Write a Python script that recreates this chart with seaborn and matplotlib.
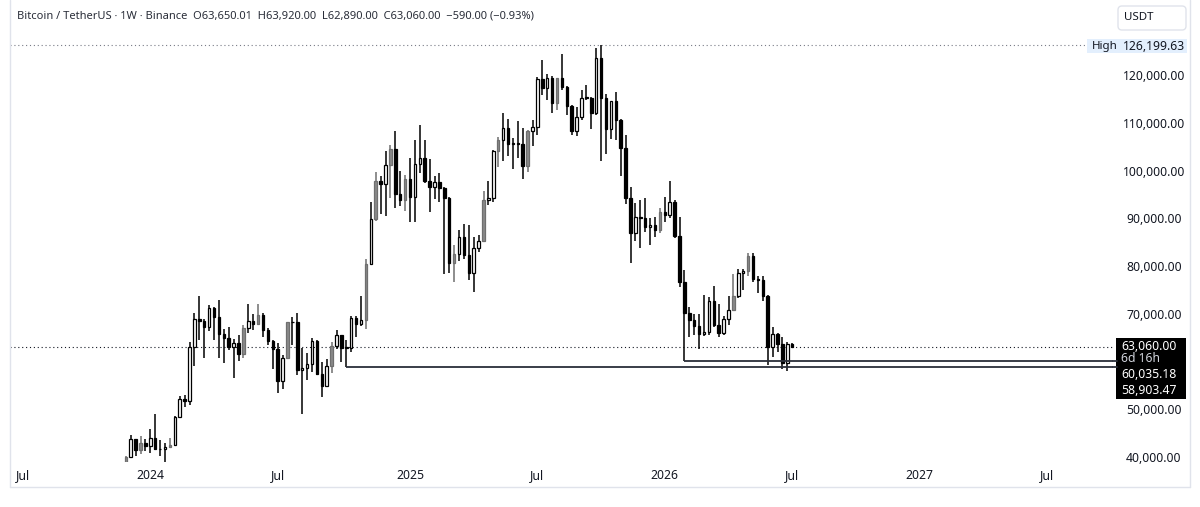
import numpy as np
import pandas as pd
import matplotlib
matplotlib.use("Agg")
import matplotlib.pyplot as plt
import matplotlib.dates as mdates
from matplotlib.patches import Rectangle, FancyBboxPatch
import seaborn as sns

# ---------------- data (weekly BTCUSDT candles) ----------------
week_start = "2023-11-27"
opens = [37450, 39970, 43780, 41375, 43010, 42280, 43930, 41730, 41580, 42120,
         42580, 48300, 52140, 51730, 63110, 68960, 68390, 67210, 71280, 69360,
         65660, 64940, 63120, 63890, 61480, 66940, 68500, 67760, 69640, 66640,
         64250, 62680, 55850, 60800, 68170, 68250, 58160, 58710, 59450, 64200,
         57300, 54840, 59130, 63350, 65600, 62820, 62850, 69030, 67940, 68770,
         80370, 89850, 97900, 97190, 101110, 104460, 95180, 93720, 98320, 94520,
         101330, 102620, 97700, 96460, 97570, 96250, 94270, 80730, 82580, 86080,
         82390, 78430, 83770, 85180, 93750, 94320, 104120, 106450, 109000, 105640,
         105730, 105590, 100960, 108370, 109200, 119080, 117300, 119450, 114200, 119300,
         117400, 113500, 108250, 111150, 115270, 115230, 112120, 123510, 115270, 108640,
         114470, 110540, 104720, 94260, 86830, 90360, 90050, 88170, 88500, 87600,
         91400, 90700, 93500, 86200, 76700, 70200, 68700, 67400, 65800, 66200,
         72700, 67600, 65900, 69000, 70800, 73700, 78600, 78900, 82100, 77200,
         77000, 73700, 63100, 65700, 63700, 59600, 63650.01]
highs = [40250, 44700, 43800, 44300, 43800, 45880, 48970, 43580, 42840, 43880,
         48590, 52820, 52980, 64000, 70170, 73780, 68920, 71770, 71340, 72800,
         66870, 67230, 64740, 65500, 67700, 71980, 70000, 71990, 70200, 67000,
         64500, 63860, 61390, 68370, 69400, 70080, 62750, 61800, 65000, 64480,
         59800, 60600, 64130, 66500, 65620, 64480, 69500, 69520, 73620, 81500,
         93480, 99590, 98870, 104090, 105250, 108350, 99960, 98980, 102720, 106420,
         109590, 106460, 102500, 98830, 99480, 96500, 94420, 84500, 87450, 88770,
         88500, 86100, 86430, 95760, 97900, 104360, 107100, 111980, 110720, 106800,
         110400, 108950, 108530, 110530, 119490, 123220, 120250, 119800, 119310, 124470,
         117630, 113650, 113380, 116800, 118000, 115430, 125710, 126199.63, 116000, 114000,
         116400, 110800, 107500, 96640, 93100, 93800, 94300, 90100, 90300, 92100,
         94500, 97700, 93800, 90300, 79200, 71500, 70000, 70000, 73900, 73600,
         75800, 72000, 69600, 73700, 78300, 79300, 79300, 82700, 82700, 77900,
         77900, 74000, 67300, 66000, 65200, 64000, 63920]
lows = [36700, 39950, 40200, 40530, 41300, 40750, 41500, 40280, 38550, 41880,
        42260, 48150, 50520, 50900, 59000, 64550, 60780, 66380, 64500, 60660,
        59600, 62400, 56550, 60190, 60750, 66060, 66600, 67600, 65080, 63380,
        58400, 53500, 54260, 60600, 63450, 57120, 49000, 56100, 57800, 57200,
        52550, 54600, 57500, 62650, 59830, 58903.47, 62060, 65050, 67500, 66830,
        80220, 89380, 90790, 90500, 94150, 92180, 92570, 91530, 89260, 89260,
        99460, 97300, 91230, 94090, 93390, 78260, 78500, 76610, 81140, 81560,
        77150, 74510, 83000, 85140, 92800, 93380, 100720, 102000, 103100, 100370,
        102660, 98200, 99600, 105100, 107470, 115730, 114720, 112000, 112650, 116800,
        111680, 107350, 107250, 110600, 114780, 108650, 111560, 102000, 103530, 106670,
        106300, 98940, 93000, 80600, 85300, 83800, 87200, 84400, 86100, 86900,
        89300, 90000, 85800, 75600, 60035.18, 65200, 65600, 62600, 65400, 65600,
        67200, 65200, 65500, 67600, 70500, 73300, 75000, 78000, 76600, 74400,
        72700, 59300, 61000, 62000, 58500, 58000, 62890]
closes = [39970, 43780, 41375, 43010, 42280, 43930, 41730, 41580, 42120, 42580,
          48300, 52140, 51730, 63110, 68960, 68390, 67210, 71280, 69360, 65660,
          64940, 63120, 63890, 61480, 66940, 68500, 67760, 69640, 66640, 64250,
          62680, 55850, 60800, 68170, 68250, 58160, 58710, 59450, 64200, 57300,
          54840, 59130, 63350, 65600, 62820, 62850, 69030, 67940, 68770, 80370,
          89850, 97900, 97190, 101110, 104460, 95180, 93720, 98320, 94520, 101330,
          102620, 97700, 96460, 97570, 96250, 94270, 80730, 82580, 86080, 82390,
          78430, 83770, 85180, 93750, 94320, 104120, 106450, 109000, 105640, 105730,
          105590, 100960, 108370, 109200, 119080, 117300, 119450, 114200, 119300, 117400,
          113500, 108250, 111150, 115270, 115230, 112120, 123510, 115270, 108640, 114470,
          110540, 104720, 94260, 86830, 90360, 90050, 88170, 88500, 87600, 91400,
          90700, 93500, 86200, 76700, 70200, 68700, 67400, 65800, 66200, 72700,
          67600, 65900, 69000, 70800, 73700, 78600, 78900, 82100, 77200, 77000,
          73700, 63100, 65700, 63700, 59600, 63650.01, 63060]

last_close = 63060.00
all_time_high = 126199.63
support_a = 60035.18   # drawn from the week it was printed
support_b = 58903.47
support_a_start = 114
support_b_start = 45

price_ticks = [40000, 50000, 70000, 80000, 90000, 100000, 110000, 120000]
time_tick_months = ["2023-07-01", "2024-01-01", "2024-07-01", "2025-01-01", "2025-07-01",
                    "2026-01-01", "2026-07-01", "2027-01-01", "2027-07-01"]

header = ("Bitcoin / TetherUS \u00b7 1W \u00b7 Binance  O63,650.01  H63,920.00  "
          "L62,890.00  C63,060.00  \u2212590.00 (\u22120.93%)")

# ---------------- style ----------------
grey_bars = [0, 3, 9, 24, 27, 33, 42, 49, 51, 54, 57, 67, 73, 76, 82, 88, 109, 124, 127]
GREY = "#8a8a8a"
INK = "#131722"
W, H = 1200, 507
LABEL_FS = 8.8

sns.set_theme(style="white")
plt.rcParams["font.family"] = ["Noto Sans", "DejaVu Sans"]

fig = plt.figure(figsize=(W / 100, H / 100), dpi=100)
fig.patch.set_facecolor("white")

# pane geometry in pixels
pane_l, pane_r, pane_t, pane_b = 10, 1113, 0, 462
ax = fig.add_axes([pane_l / W, 1 - pane_b / H, (pane_r - pane_l) / W, (pane_b - pane_t) / H])
ax.set_facecolor("white")
for s in ax.spines.values():
    s.set_visible(False)

dates = pd.date_range(week_start, periods=len(closes), freq="7D")
x = mdates.date2num(dates)
o, hi, lo, c = map(np.asarray, (opens, highs, lows, closes))
up = c >= o
face = np.where(up, "white", "black").astype(object)
edge = np.array(["black"] * len(c), dtype=object)
for i in grey_bars:
    face[i] = GREY
    edge[i] = "#6f6f6f"
wick = edge.copy()

ax.vlines(x, lo, hi, colors=list(wick), linewidth=1.1, zorder=2)
ax.bar(x, np.maximum(np.abs(c - o), 150), bottom=np.minimum(o, c), width=3.6,
       color=list(face), edgecolor=list(edge), linewidth=0.9, zorder=3)

# axis limits (weekly spacing ~4.9 px, first bar at px 125.8)
px_per_day = 4.9 / 7.0
x0 = x[0] - (125.8 - pane_l) / px_per_day
x1 = x[0] + (pane_r - 125.8) / px_per_day
ax.set_xlim(x0, x1)
px_per_k = 4.775
ax.set_ylim(120000 - (pane_b - 75) / px_per_k * 1000, 120000 + (75 - pane_t) / px_per_k * 1000)

# level lines
ax.axhline(last_close, color=INK, linestyle=(0, (1, 2.5)), linewidth=0.8, zorder=1)
ax.axhline(all_time_high, xmax=(1087 - pane_l) / (pane_r - pane_l), color="#787b86",
           linestyle=(0, (1, 2.5)), linewidth=0.8, zorder=1)
ax.hlines(support_a, x[support_a_start], x1, color="#2a2e39", linewidth=1.3, zorder=4)
ax.hlines(support_b, x[support_b_start], x1, color="#2a2e39", linewidth=1.3, zorder=4)

# price scale on the right
ax.yaxis.tick_right()
ax.set_yticks(price_ticks, [f"{p:,.2f}" for p in price_ticks])
ax.tick_params(axis="y", length=0, pad=(1154 - pane_r) * 0.72, labelsize=LABEL_FS, colors=INK)
for lbl in ax.get_yticklabels():
    lbl.set_horizontalalignment("center")
    if lbl.get_text() == "100,000.00":
        lbl.set_fontweight("bold")

# time scale
tick_dates = [pd.date_range(m, periods=1, freq="W-MON")[0] for m in time_tick_months]
tick_labels = ["Jul" if d.month == 7 else str(d.year) for d in tick_dates]
ax.set_xticks(mdates.date2num(tick_dates), tick_labels)
ax.tick_params(axis="x", length=0, pad=5, labelsize=LABEL_FS, colors=INK)
for lbl in ax.get_xticklabels():
    if lbl.get_text() != "Jul":
        lbl.set_fontweight("bold")
ax.grid(False)

# ---------------- overlay (pixel coordinates) ----------------
ov = fig.add_axes([0, 0, 1, 1], zorder=10)
ov.set_xlim(0, W)
ov.set_ylim(H, 0)
ov.axis("off")
ov.patch.set_alpha(0)

frame = "#e0e3eb"
ov.plot([10, 10], [0, 487], color=frame, lw=1)
ov.plot([1190, 1190], [0, 487], color=frame, lw=1)
ov.plot([10, 1190], [487, 487], color=frame, lw=1)

ov.text(17, 16, header, fontsize=8.0, color="#2a2e39", va="center", ha="left",
        family=["Liberation Sans Narrow", "Noto Sans", "DejaVu Sans"])

ov.add_patch(FancyBboxPatch((1118, 6), 68, 24, boxstyle="round,pad=0,rounding_size=4",
                            facecolor="white", edgecolor=frame, lw=1))
ov.text(1124, 18, "USDT", fontsize=8.3, color=INK, va="center", ha="left")

ov.add_patch(Rectangle((1087, 39), 100, 14, facecolor="#e3effd", edgecolor="none"))
ov.text(1092, 46, "High", fontsize=8.3, color=INK, va="center", ha="left")
ov.text(1154, 46, f"{all_time_high:,.2f}", fontsize=LABEL_FS, color=INK, va="center", ha="center")

# connectors of the support lines to their labels
ov.plot([pane_r, 1117], [361.3, 361.3], color="#2a2e39", lw=1.3)
ov.plot([pane_r, 1117], [366.7, 366.7], color="#2a2e39", lw=1.3)

ov.add_patch(Rectangle((1116, 338), 70, 61, facecolor="black", edgecolor="none"))
ov.text(1121, 346, f"{last_close:,.2f}", fontsize=LABEL_FS, color="white", va="center", ha="left")
ov.text(1121, 358, "6d 16h", fontsize=LABEL_FS, color="#d1d4dc", va="center", ha="left")
ov.text(1121, 374, f"{support_a:,.2f}", fontsize=LABEL_FS, color="white", va="center", ha="left")
ov.text(1121, 390, f"{support_b:,.2f}", fontsize=LABEL_FS, color="white", va="center", ha="left")

fig.savefig("out.png", dpi=100, facecolor="white")
